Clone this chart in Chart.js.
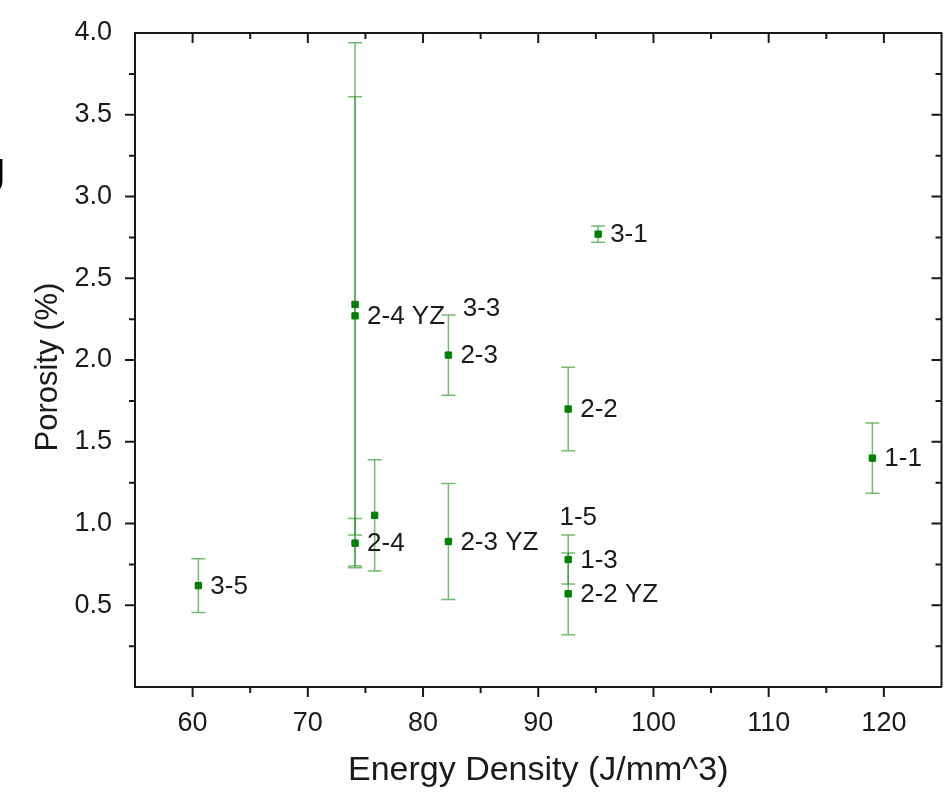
<!DOCTYPE html>
<html>
<head>
<meta charset="utf-8">
<script src="https://cdn.jsdelivr.net/npm/chart.js@4.4.1/dist/chart.umd.min.js"></script>
<style>
  body { margin: 0; background: #fff; }
  #wrap { width: 947px; height: 803px; }
</style>
</head>
<body>
<div id="wrap"><canvas id="porosityChart" width="947" height="803"></canvas></div>
<script>
// --- DATA ---
const sampleNames = ['3-5', '2-4', '', '', '2-4 YZ', '3-3', '2-3 YZ', '2-3', '1-5', '2-2 YZ', '1-3', '2-2', '3-1', '1-1'];
const energy      = [60.5, 74.1, 75.8, 74.1, 74.1, 82.4, 82.2, 82.2, 90.8, 92.6, 92.6, 92.6, 95.2, 119.0];
const porosity    = [0.62, 0.88, 1.05, 2.34, 2.27, 2.32, 0.89, 2.03, 1.04, 0.57, 0.78, 1.70, 2.77, 1.40];
const porosityErr = [0.165, 0.15, 0.34, 1.60, 1.34, 0, 0.355, 0.245, 0, 0.25, 0.15, 0.255, 0.05, 0.215];
const markerShown = [true, true, true, true, true, false, true, true, false, true, true, true, true, true];

const xTicks = [60, 70, 80, 90, 100, 110, 120];
const yTicks = [0.5, 1.0, 1.5, 2.0, 2.5, 3.0, 3.5, 4.0];
const yTitle = 'Porosity (%)';

const FONT = "'Liberation Sans', Arial, sans-serif";
const INK = '#1a1a1a';

// --- PLUGINS ---
const errorBars = {
    id: 'errorBars',
    beforeDatasetsDraw(chart) {
        const { ctx, scales: { x, y } } = chart;
        ctx.save();
        ctx.strokeStyle = 'rgba(40,150,40,0.65)';
        ctx.lineWidth = 1.5;
        energy.forEach((e, i) => {
            const err = porosityErr[i];
            if (!err) return;
            const px = x.getPixelForValue(e);
            const top = y.getPixelForValue(porosity[i] + err);
            const bot = y.getPixelForValue(porosity[i] - err);
            ctx.beginPath();
            ctx.moveTo(px, top); ctx.lineTo(px, bot);
            ctx.moveTo(px - 7, top); ctx.lineTo(px + 7, top);
            ctx.moveTo(px - 7, bot); ctx.lineTo(px + 7, bot);
            ctx.stroke();
        });
        ctx.restore();
    }
};

const pointLabels = {
    id: 'pointLabels',
    afterDatasetsDraw(chart) {
        const { ctx } = chart;
        const meta = chart.getDatasetMeta(0);
        ctx.save();
        ctx.font = '26px ' + FONT;
        ctx.fillStyle = INK;
        ctx.textAlign = 'left';
        ctx.textBaseline = 'middle';
        meta.data.forEach((pt, i) => {
            if (sampleNames[i]) ctx.fillText(sampleNames[i], pt.x + 12, pt.y + 1);
        });
        ctx.restore();
    }
};

const frameTicks = {
    id: 'frameTicks',
    afterDraw(chart) {
        const { ctx, chartArea: a, scales: { x, y } } = chart;
        ctx.save();
        ctx.strokeStyle = INK;
        ctx.lineWidth = 2;
        ctx.beginPath();
        ctx.moveTo(a.left, a.top); ctx.lineTo(a.right, a.top); ctx.lineTo(a.right, a.bottom);
        // x ticks: outward on bottom, inward on top
        for (let v = 60; v < 125; v += 5) {
            const len = v % 10 === 0 ? 10 : 6;
            const px = x.getPixelForValue(v);
            ctx.moveTo(px, a.bottom); ctx.lineTo(px, a.bottom + len);
            ctx.moveTo(px, a.top); ctx.lineTo(px, a.top + len);
        }
        // y ticks: outward on left, inward on right
        for (let k = 1; k < 16; k++) {
            const v = k * 0.25;
            const len = k % 2 === 0 ? 10 : 6;
            const py = y.getPixelForValue(v);
            ctx.moveTo(a.left - len, py); ctx.lineTo(a.left, py);
            ctx.moveTo(a.right - len, py); ctx.lineTo(a.right, py);
        }
        ctx.stroke();

        // y axis title, sits a little below the middle of the plot
        ctx.fillStyle = INK;
        ctx.font = '31px ' + FONT;
        ctx.textAlign = 'center';
        ctx.textBaseline = 'middle';
        ctx.translate(48, (a.top + a.bottom) / 2 + 7);
        ctx.rotate(-Math.PI / 2);
        ctx.fillText(yTitle, 0, 0);
        ctx.setTransform(1, 0, 0, 1, 0, 0);

        // clipped letter from neighbouring panel
        ctx.font = '48px ' + FONT;
        ctx.fillStyle = '#000';
        ctx.textAlign = 'right';
        ctx.textBaseline = 'alphabetic';
        ctx.fillText('J', 6, 192);
        ctx.restore();
    }
};

// --- CHART ---
new Chart(document.getElementById('porosityChart'), {
    type: 'scatter',
    data: {
        datasets: [{
            data: energy.map((e, i) => ({ x: e, y: porosity[i] })),
            backgroundColor: '#008000',
            borderColor: '#008000',
            borderWidth: 1,
            pointStyle: 'rect',
            pointRadius: ctx => markerShown[ctx.dataIndex] ? 4.5 : 0,
            pointHoverRadius: ctx => markerShown[ctx.dataIndex] ? 4.5 : 0
        }]
    },
    options: {
        responsive: false,
        animation: false,
        devicePixelRatio: 1,
        layout: { padding: { top: 33, right: 3, left: 0, bottom: 0 } },
        plugins: { legend: { display: false }, tooltip: { enabled: false } },
        scales: {
            x: {
                type: 'linear', min: 55, max: 125,
                afterBuildTicks: s => { s.ticks = xTicks.map(v => ({ value: v })); },
                afterFit: s => { s.height = 116; s.paddingLeft = 0; s.paddingRight = 0; },
                grid: { display: false, drawTicks: false },
                border: { display: true, color: INK, width: 2 },
                ticks: { autoSkip: false, maxRotation: 0, padding: 20, color: INK, font: { family: FONT, size: 27 } },
                title: { display: true, text: 'Energy Density (J/mm^3)', color: INK, font: { family: FONT, size: 34 }, padding: { top: 0, bottom: 12 } }
            },
            y: {
                type: 'linear', min: 0, max: 4,
                afterBuildTicks: s => { s.ticks = yTicks.map(v => ({ value: v })); },
                afterFit: s => { s.width = 135; s.paddingTop = 0; s.paddingBottom = 0; },
                grid: { display: false, drawTicks: false },
                border: { display: true, color: INK, width: 2 },
                ticks: { autoSkip: false, padding: 23, color: INK, font: { family: FONT, size: 27 }, callback: v => v.toFixed(1) },
                title: { display: false }
            }
        }
    },
    plugins: [errorBars, pointLabels, frameTicks]
});
</script>
</body>
</html>
